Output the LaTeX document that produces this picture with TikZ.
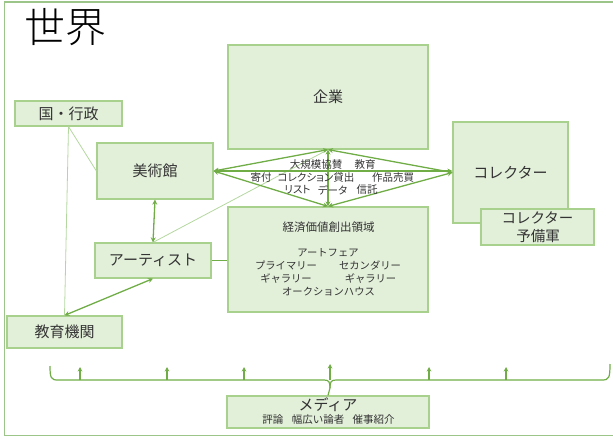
\documentclass[tikz,border=0pt]{standalone}
\usepackage{fontspec}
\setmainfont{Noto Sans CJK JP}
\newfontfamily\pfont[RawFeature=+palt]{Noto Sans CJK JP}
\newfontfamily\lightfont{Noto Sans CJK JP Light}
\usetikzlibrary{arrows.meta}
\definecolor{boxfill}{HTML}{E2EFD9}
\definecolor{bord}{HTML}{A9D18E}
\definecolor{arrc}{HTML}{70AD47}
\definecolor{thinc}{HTML}{B4D7A0}
\definecolor{textc}{HTML}{333333}
\definecolor{framec}{HTML}{9CC58A}
\tikzset{
  gbox/.style={draw=bord, fill=boxfill, line width=1.2pt, inner sep=0pt, text=textc, font=\fontsize{15}{17}\selectfont},
  lbl/.style={inner sep=0pt, text=textc, font=\pfont\fontsize{10.5}{12}\selectfont},
  klbl/.style={inner sep=0pt, text=textc, font=\fontsize{10.3}{12}\selectfont},
  arr/.style={draw=arrc, line width=1.3pt, {Stealth[length=5pt,width=5pt]}-{Stealth[length=5pt,width=5pt]}},
  uparr/.style={draw=arrc, line width=1.1pt, -{Stealth[length=4.5pt,width=4.5pt]}},
  thin/.style={draw=thinc, line width=0.8pt},
  plain/.style={draw=arrc, line width=1.3pt}
}
\begin{document}
\begin{tikzpicture}[x=1pt,y=-1pt]
\useasboundingbox (0,0) rectangle (613,439);
% frame
\draw[framec, line width=1.3pt] (630,2) -- (4.5,2) -- (4.5,435.5) -- (630,435.5);
\node[inner sep=0pt, text=black, font=\lightfont\fontsize{41}{44}\selectfont] (title) at (65,27) {世界};
% boxes
\node[gbox, minimum width=200pt, minimum height=104pt] (kigyo) at (328,97) {企業};
\node[gbox, minimum width=107pt, minimum height=25pt] (gyosei) at (68.5,113.5) {国・行政};
\node[gbox, minimum width=116pt, minimum height=56pt] (bijutsu) at (155,171) {美術館};
\node[gbox, minimum width=116pt, minimum height=35pt] (artist) at (153,260.5) {アーティスト};
\node[gbox, minimum width=115pt, minimum height=32pt] (kyoiku) at (64.5,332) {教育機関};
\node[gbox, minimum width=200pt, minimum height=105pt] (keizai) at (328,259.5) {};
\node[gbox, minimum width=115pt, minimum height=101pt] (coll) at (510.5,172.5) {コレクター};
\node[gbox, minimum width=113pt, minimum height=36pt] (yobi) at (537.5,227) {};
\node[gbox, minimum width=202pt, minimum height=32pt] (media) at (328,412) {};
% texts inside boxes
\node[inner sep=0pt, text=textc, font=\fontsize{14.5}{16}\selectfont] (yobi1) at (537.5,217.5) {コレクター};
\node[inner sep=0pt, text=textc, font=\fontsize{14.5}{16}\selectfont] (yobi2) at (538,236.5) {予備軍};
\node[klbl, font=\fontsize{11.5}{13}\selectfont] (k0) at (328.5,227) {経済価値創出領域};
\node[klbl] (k1) at (328,253) {アートフェア};
\node[klbl] (k2) at (286,265.5) {プライマリー};
\node[klbl] (k3) at (370,265.5) {セカンダリー};
\node[klbl] (k4) at (286,279) {ギャラリー};
\node[klbl] (k5) at (370.5,279) {ギャラリー};
\node[klbl] (k6) at (328.5,291.5) {オークションハウス};
\node[inner sep=0pt, text=textc, font=\fontsize{15}{17}\selectfont] (m1) at (328,405) {メディア};
\node[inner sep=0pt, text=textc, font=\fontsize{10.5}{12}\selectfont] (m2) at (328.5,420) {評論\hspace{0.8em}幅広い論者\hspace{0.8em}催事紹介};
% connectors
\draw[thin] (gyosei.south) -- (bijutsu.west);
\draw[thin] (gyosei.south) -- (kyoiku.north);
\draw[thin] (artist.north) -- (kigyo.south);
\draw[arr] (bijutsu.east) -- (kigyo.south);
\draw[arr] (bijutsu.east) -- (keizai.north);
\draw[arr] (coll.west) -- (kigyo.south);
\draw[arr] (coll.west) -- (keizai.north);
\draw[arr] (bijutsu.east) -- (bijutsu.east -| coll.west);
\draw[arr] (kigyo.south) -- (keizai.north);
\draw[arr] (bijutsu.south) -- (artist.north);
\draw[arr] (artist.south) -- (kyoiku.north);
\draw[plain] (artist.east) -- (artist.east -| keizai.west);
% middle labels
\node[lbl] (l1) at (316,165) {大規模協賛};
\node[lbl] (l2) at (365,165) {教育};
\node[lbl] (l3) at (261,177.5) {寄付};
\node[lbl] (l4) at (316,177.5) {コレクション貸出};
\node[lbl] (l5) at (393,177.5) {作品売買};
\node[lbl] (l6) at (297.5,190) {リスト};
\node[lbl] (l7) at (332.5,190) {データ};
\node[lbl] (l8) at (367,190) {信託};
% brace
\coordinate (bl) at (50,366);
\coordinate (br) at (610,364);
\coordinate (bc) at (330,380);
\draw[draw=arrc, line width=1.2pt] (bl) .. controls (50,378) and (51,380) .. (58,380) -- (324,380)
  .. controls (329,380) and (330,382) .. (330,388) -- (media.north);
\draw[draw=arrc, line width=1.2pt] (br) .. controls (610,378) and (609,380) .. (602,380) -- (336,380)
  .. controls (331,380) and (330,382) .. (330,388);
\foreach \xx/\nm in {80/a1,167/a2,244/a3,429/a4,506/a5}{
  \coordinate (\nm s) at (\xx,380);
  \coordinate (\nm e) at (\xx,367);
  \draw[uparr] (\nm s) -- (\nm e);
}
\coordinate (c0e) at (330,364);
\draw[uparr] (bc) -- (c0e);
\end{tikzpicture}
\end{document}
